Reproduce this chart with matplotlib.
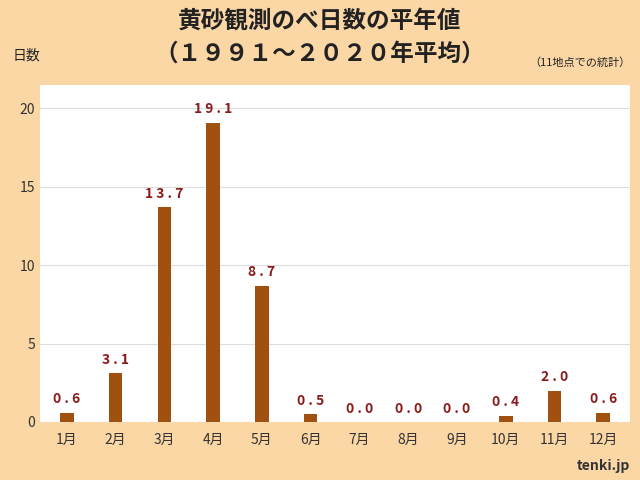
import matplotlib.pyplot as plt
import numpy as np

plt.rcParams['font.family'] = 'Noto Sans CJK JP'

months = ['1月', '2月', '3月', '4月', '5月', '6月', '7月', '8月', '9月', '10月', '11月', '12月']
days = [0.6, 3.1, 13.7, 19.1, 8.7, 0.5, 0.0, 0.0, 0.0, 0.4, 2.0, 0.6]
yticks = [0, 5, 10, 15, 20]

bg = '#fbd7a6'
fig = plt.figure(figsize=(6.4, 4.8), dpi=100, facecolor=bg)
ax = fig.add_axes([0.0625, 0.121, 0.922, 0.702])
ax.set_facecolor('white')

x = np.arange(len(months))
ax.bar(x, days, width=0.28, color='#a0500f')
for xi, v in zip(x, days):
    ax.text(xi, v + 0.4, ' '.join(f'{v:.1f}'), ha='center', va='bottom',
            color='#8b1a1a', fontsize=10, fontweight='bold')

ax.set_xlim(-0.55, 11.55)
ax.set_ylim(0, 21.5)
ax.set_yticks(yticks)
ax.set_xticks(x)
ax.set_xticklabels(months)
ax.grid(axis='y', color='#dddddd', linewidth=0.8)
ax.set_axisbelow(True)
for s in ax.spines.values():
    s.set_visible(False)
ax.tick_params(length=0, labelsize=10, colors='#333333')
ax.tick_params(axis='x', pad=8)

fig.text(0.5, 0.955, '黄砂観測のべ日数の平年値', ha='center', va='center', fontsize=17, fontweight='bold', color='#222222')
fig.text(0.5, 0.888, '（１９９１～２０２０年平均）', ha='center', va='center', fontsize=17, fontweight='bold', color='#222222')
fig.text(0.02, 0.885, '日数', ha='left', va='center', fontsize=10, color='#222222')
fig.text(0.985, 0.87, '（11地点での統計）', ha='right', va='center', fontsize=8, color='#222222')
fig.text(0.985, 0.03, 'tenki.jp', ha='right', va='center', fontsize=10, fontweight='bold', color='#333333')

fig.savefig('out.png', dpi=100, facecolor=bg)
